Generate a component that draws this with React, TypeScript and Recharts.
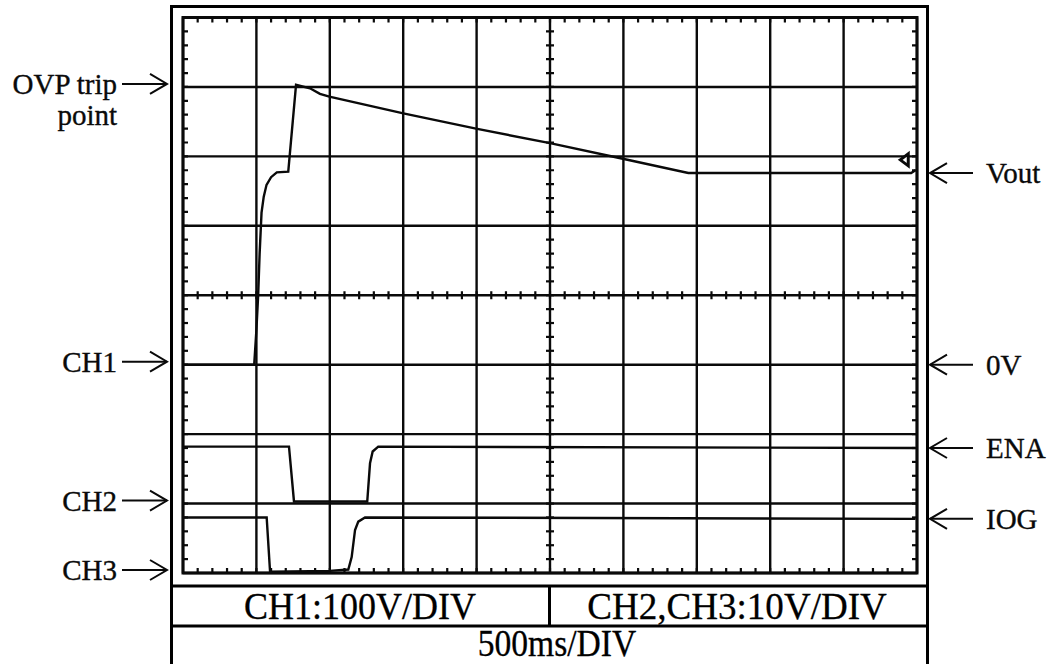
import React from "react";
import {
  ComposedChart,
  Line,
  XAxis,
  YAxis,
  CartesianGrid,
  Scatter,
  ReferenceArea,
  ReferenceDot,
} from "recharts";

// screen: 10 x 8 divisions, time base 500 ms/div
const MS_PER_DIV = 500;
const X_DIVS = 10;
const Y_DIVS = 8;
const T_END = MS_PER_DIV * X_DIVS;

// CH1 - Vout (V), 100 V/div, zero on division 3
const voutTime = [0, 485, 500, 512, 522, 535, 550, 569, 600, 639, 717, 770, 865, 933, 997, 1501, 1996, 2500, 2988, 3442, 4960, 4990];
const voutVolts = [0, 0, 50, 100, 160, 219, 242, 259, 270, 277, 278, 403, 398, 390, 386, 362, 340, 319, 297, 276, 276, 280];

// CH2 - ENA (V), 10 V/div, zero on division 1
const enaTime = [0, 722, 756, 1255, 1274, 1292, 1330, 4990];
const enaVolts = [8.2, 8.2, 0.3, 0.3, 5.8, 7.5, 8.2, 8.0];

// CH3 - IOG (V), 10 V/div, zero on division 0
const iogTime = [0, 570, 593, 1000, 1126, 1149, 1172, 1194, 1240, 4990];
const iogVolts = [8.0, 8.0, 0.2, 0.3, 0.5, 2.3, 6.2, 7.4, 8.0, 7.8];

const OVP_TRIP = 400; // V
const TRIGGER_LEVEL = 5.95; // div
const VOUT_LEVEL = 276; // V, settled output

const CH1 = { zero: 3, perDiv: 100 };
const CH2 = { zero: 1, perDiv: 10 };
const CH3 = { zero: 0, perDiv: 10 };

type Ch = { zero: number; perDiv: number };
const toDiv = (v: number, ch: Ch) => ch.zero + v / ch.perDiv;
const trace = (ts: number[], vs: number[], ch: Ch) =>
  ts.map((t, i) => ({ t, y: toDiv(vs[i], ch) }));

const voutData = trace(voutTime, voutVolts, CH1);
const enaData = trace(enaTime, enaVolts, CH2);
const iogData = trace(iogTime, iogVolts, CH3);

// graticule
const majorX = Array.from({ length: X_DIVS + 1 }, (_, i) => i * MS_PER_DIV);
const majorY = Array.from({ length: Y_DIVS + 1 }, (_, i) => i);
const minorX = Array.from({ length: X_DIVS * 5 - 1 }, (_, i) => (i + 1) * (MS_PER_DIV / 5));
const minorY = Array.from({ length: Y_DIVS * 5 - 1 }, (_, i) => +((i + 1) * 0.2).toFixed(1));

const topTicks = minorX.map((t) => ({ t, y: Y_DIVS }));
const bottomTicks = minorX.map((t) => ({ t, y: 0 }));
const leftTicks = minorY.map((y) => ({ t: 0, y }));
const rightTicks = minorY.map((y) => ({ t: T_END, y }));
const midHTicks = minorX.map((t) => ({ t, y: Y_DIVS / 2 }));
const midVTicks = minorY.map((y) => ({ t: T_END / 2, y }));

const INK = "#0a0a0a";
const FONT = "'Liberation Serif', 'Times New Roman', serif";

const tick = (dx1: number, dy1: number, dx2: number, dy2: number) => (p: any) => (
  <line
    x1={p.cx + dx1}
    y1={p.cy + dy1}
    x2={p.cx + dx2}
    y2={p.cy + dy2}
    stroke={INK}
    strokeWidth={2.2}
  />
);

const labelText = { fontFamily: FONT, fontSize: 29, fill: INK, stroke: INK, strokeWidth: 0.35 };

const leftArrow = (lines: string[]) => (p: any) => {
  const y = p.cy - 3;
  const tip = p.cx - 16;
  return (
    <g>
      <line x1={p.cx - 61} y1={y} x2={tip} y2={y} stroke={INK} strokeWidth={2} />
      <polyline
        points={`${tip - 17},${y - 10} ${tip},${y} ${tip - 17},${y + 10}`}
        fill="none"
        stroke={INK}
        strokeWidth={2}
      />
      {lines.map((s, i) => (
        <text key={s} x={p.cx - 66} y={y + 10 + i * 31} textAnchor="end" {...labelText}>
          {s}
        </text>
      ))}
    </g>
  );
};

const rightArrow = (label: string) => (p: any) => {
  const y = p.cy;
  const tip = p.cx + 13;
  return (
    <g>
      <line x1={tip} y1={y} x2={p.cx + 56} y2={y} stroke={INK} strokeWidth={2} />
      <polyline
        points={`${tip + 17},${y - 10} ${tip},${y} ${tip + 17},${y + 10}`}
        fill="none"
        stroke={INK}
        strokeWidth={2}
      />
      <text x={p.cx + 69} y={y + 10} {...labelText}>
        {label}
      </text>
    </g>
  );
};

const triggerMark = (p: any) => (
  <polygon
    points={`${p.cx - 5},${p.cy} ${p.cx + 3},${p.cy - 6} ${p.cx + 3},${p.cy + 6}`}
    fill="#fff"
    stroke={INK}
    strokeWidth={3}
  />
);

const cellText = (x: number, y: number, sx: number, sy: number, size: number, s: string) => (
  <text
    transform={`translate(${x} ${y}) scale(${sx} ${sy})`}
    textAnchor="middle"
    fontFamily={FONT}
    fontSize={size}
    fill="#000"
    stroke="#000"
    strokeWidth={0.3}
  >
    {s}
  </text>
);

function Frame() {
  return (
    <svg width={1049} height={664} style={{ position: "absolute", left: 0, top: 0 }}>
      <rect x={171.5} y={6.5} width={756} height={700} fill="none" stroke="#000" strokeWidth={3} />
      <line x1={171} y1={586} x2={928} y2={586} stroke="#000" strokeWidth={3} />
      <line x1={171} y1={626} x2={928} y2={626} stroke="#000" strokeWidth={3} />
      <line x1={549.5} y1={586} x2={549.5} y2={626} stroke="#000" strokeWidth={3} />
      {cellText(360, 619, 1, 1.08, 36, "CH1:100V/DIV")}
      {cellText(737, 619, 1.03, 1.08, 36, "CH2,CH3:10V/DIV")}
      {cellText(557, 656, 0.96, 1.06, 35, "500ms/DIV")}
    </svg>
  );
}

export default function App() {
  return (
    <div style={{ position: "absolute", left: 0, top: 0, width: 1049, height: 664, background: "#fff", overflow: "hidden" }}>
      <Frame />
      <div style={{ position: "absolute", left: 0, top: 0 }}>
        <ComposedChart
          width={1049}
          height={664}
          margin={{ top: 17.5, left: 183, right: 132, bottom: 91 }}
        >
          <XAxis type="number" dataKey="t" domain={[0, T_END]} hide allowDataOverflow />
          <YAxis type="number" dataKey="y" domain={[0, Y_DIVS]} hide allowDataOverflow />
          <CartesianGrid
            verticalValues={majorX}
            horizontalValues={majorY}
            stroke={INK}
            strokeWidth={2.4}
          />
          <ReferenceArea
            x1={0}
            x2={T_END}
            y1={0}
            y2={Y_DIVS}
            fill="none"
            stroke={INK}
            strokeWidth={3}
            ifOverflow="visible"
          />
          <Scatter data={topTicks} shape={tick(0, 0, 0, 5)} isAnimationActive={false} />
          <Scatter data={bottomTicks} shape={tick(0, 0, 0, -5)} isAnimationActive={false} />
          <Scatter data={leftTicks} shape={tick(0, 0, 5, 0)} isAnimationActive={false} />
          <Scatter data={rightTicks} shape={tick(0, 0, -5, 0)} isAnimationActive={false} />
          <Scatter data={midHTicks} shape={tick(0, -4, 0, 4)} isAnimationActive={false} />
          <Scatter data={midVTicks} shape={tick(-4, 0, 4, 0)} isAnimationActive={false} />
          <Line data={voutData} dataKey="y" type="linear" stroke={INK} strokeWidth={2.4} dot={false} isAnimationActive={false} />
          <Line data={enaData} dataKey="y" type="linear" stroke={INK} strokeWidth={2.4} dot={false} isAnimationActive={false} />
          <Line data={iogData} dataKey="y" type="linear" stroke={INK} strokeWidth={2.4} dot={false} isAnimationActive={false} />
          <ReferenceDot x={4920} y={TRIGGER_LEVEL} r={0} shape={triggerMark} ifOverflow="visible" />
          <ReferenceDot x={0} y={toDiv(OVP_TRIP, CH1)} r={0} shape={leftArrow(["OVP trip", "point"])} ifOverflow="visible" />
          <ReferenceDot x={0} y={CH1.zero} r={0} shape={leftArrow(["CH1"])} ifOverflow="visible" />
          <ReferenceDot x={0} y={CH2.zero} r={0} shape={leftArrow(["CH2"])} ifOverflow="visible" />
          <ReferenceDot x={0} y={CH3.zero} r={0} shape={leftArrow(["CH3"])} ifOverflow="visible" />
          <ReferenceDot x={T_END} y={toDiv(VOUT_LEVEL, CH1)} r={0} shape={rightArrow("Vout")} ifOverflow="visible" />
          <ReferenceDot x={T_END} y={CH1.zero} r={0} shape={rightArrow("0V")} ifOverflow="visible" />
          <ReferenceDot x={T_END} y={toDiv(enaVolts[enaVolts.length - 1], CH2)} r={0} shape={rightArrow("ENA")} ifOverflow="visible" />
          <ReferenceDot x={T_END} y={toDiv(iogVolts[iogVolts.length - 1], CH3)} r={0} shape={rightArrow("IOG")} ifOverflow="visible" />
        </ComposedChart>
      </div>
    </div>
  );
}
